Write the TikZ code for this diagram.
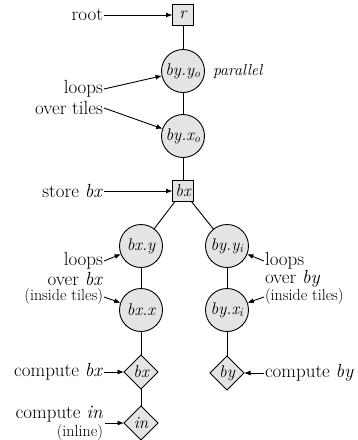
\documentclass[tikz,border=0pt]{standalone}
\usetikzlibrary{shapes.geometric,arrows.meta}
\definecolor{nodegray}{HTML}{E4E4E4}
\begin{document}
\begin{tikzpicture}[x=1pt,y=-1pt,
  every node/.style={inner sep=0pt, outer sep=0pt},
  lbl/.style={font=\fontsize{19}{21}\selectfont},
  smalllbl/.style={font=\fontsize{16}{18}\selectfont},
  boxn/.style={draw, fill=nodegray, minimum size=21pt, line width=0.9pt, font=\fontsize{17}{19}\selectfont\itshape},
  circn/.style={draw, circle, fill=nodegray, minimum size=43pt, line width=0.9pt, font=\fontsize{17}{19}\selectfont\itshape},
  diamn/.style={draw, diamond, fill=nodegray, minimum width=34pt, minimum height=34pt, line width=0.9pt, font=\fontsize{17}{19}\selectfont\itshape},
  edge/.style={line width=0.9pt},
  arr/.style={-{Latex[length=6.5pt,width=5pt]}, line width=0.9pt}]
\useasboundingbox (0,0) rectangle (358,440);

% tree nodes
\node[boxn] (r) at (183,15) {r};
\node[circn] (byyo) at (183,71) {by.y\textsubscript{o}};
\node[circn] (byxo) at (183,136) {by.x\textsubscript{o}};
\node[boxn] (bxs) at (183,191) {bx};
\node[circn] (bxy) at (141,246) {bx.y};
\node[circn] (byyi) at (227,246) {by.y\textsubscript{i}};
\node[circn] (bxx) at (141,310) {bx.x};
\node[circn] (byxi) at (227,310) {by.x\textsubscript{i}};
\node[diamn] (bxc) at (141,372) {bx};
\node[diamn] (inc) at (141,423) {in};
\node[diamn] (byc) at (227,373) {by};

% tree edges
\draw[edge] (r) -- (byyo);
\draw[edge] (byyo) -- (byxo);
\draw[edge] (byxo) -- (bxs);
\draw[edge] (bxs) -- (bxy);
\draw[edge] (bxs) -- (byyi);
\draw[edge] (bxy) -- (bxx);
\draw[edge] (byyi) -- (byxi);
\draw[edge] (bxx) -- (bxc);
\draw[edge] (bxc) -- (inc);
\draw[edge] (byxi) -- (byc);

% labels
\node[lbl, anchor=east] (lroot) at (103,15) {root};
\node[font=\fontsize{16}{18}\selectfont\itshape, anchor=west] (lpar) at (213,71) {parallel};
\node[lbl, anchor=east] (lt1) at (103,89) {loops};
\node[lbl, anchor=east] (lt2) at (103,108) {over tiles};
\node[lbl, anchor=east] (lstore) at (103,191) {store \textit{bx}};
\node[lbl, anchor=east] (lx1) at (103,261) {loops};
\node[lbl, anchor=east] (lx2) at (103,279) {over \textit{bx}};
\node[smalllbl, anchor=east] (lx3) at (103,297) {(inside tiles)};
\node[lbl, anchor=west] (ly1) at (265,261) {loops};
\node[lbl, anchor=west] (ly2) at (265,279) {over \textit{by}};
\node[smalllbl, anchor=west] (ly3) at (265,297) {(inside tiles)};
\node[lbl, anchor=east] (lcbx) at (103,372) {compute \textit{bx}};
\node[lbl, anchor=west] (lcby) at (265,373) {compute \textit{by}};
\node[lbl, anchor=east] (lcin) at (103,414) {compute \textit{in}};
\node[smalllbl, anchor=east] (lcin2) at (103,433) {(inline)};
\coordinate (cin) at (105,423);

% arrows
\draw[arr] ([xshift=1pt]lroot.east) -- (r.west);
\draw[arr] ([xshift=1pt]lt1.east) -- (byyo);
\draw[arr] ([xshift=1pt]lt2.east) -- (byxo);
\draw[arr] ([xshift=1pt]lstore.east) -- (bxs.west);
\draw[arr] ([xshift=1pt]lx1.east) -- (bxy);
\draw[arr] ([xshift=1pt]lx3.east) -- (bxx);
\draw[arr] ([xshift=-1pt]ly1.west) -- (byyi);
\draw[arr] ([xshift=-1pt]ly3.west) -- (byxi);
\draw[arr] ([xshift=1pt]lcbx.east) -- (bxc.west);
\draw[arr] ([xshift=-1pt]lcby.west) -- (byc.east);
\draw[arr] (cin) -- (inc.west);
\end{tikzpicture}
\end{document}
